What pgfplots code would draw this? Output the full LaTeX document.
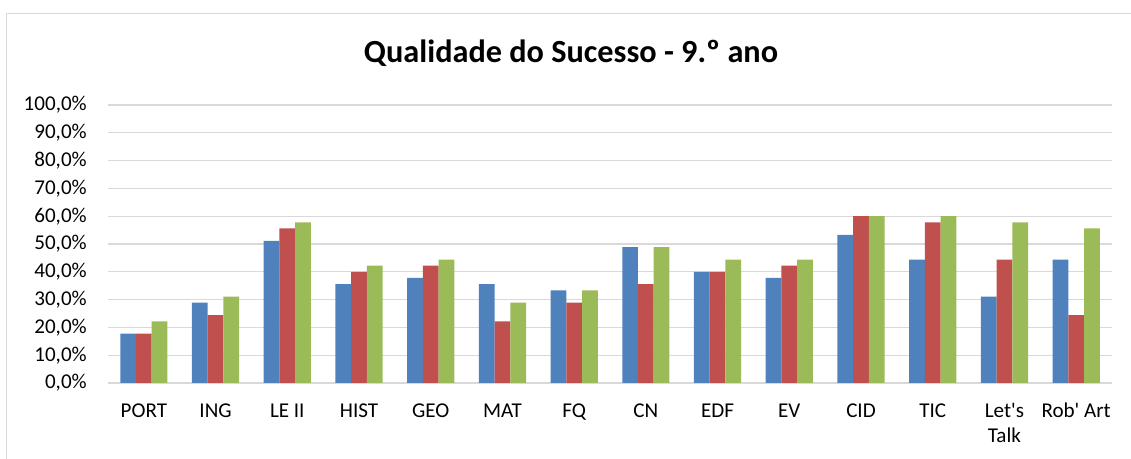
\documentclass[border=0pt]{standalone}
\usepackage{pgfplots}
\pgfplotsset{compat=1.18}
\usepackage{fontspec}
\setmainfont{Carlito}[Ligatures=TeXOff]
\definecolor{sA}{HTML}{4F81BD}
\definecolor{sB}{HTML}{C0504D}
\definecolor{sC}{HTML}{9BBB59}
\definecolor{gridc}{HTML}{D9D9D9}
\begin{document}
\begin{tikzpicture}
\useasboundingbox (0,0) rectangle (848.25pt,344.25pt);
\draw[color=gridc, line width=0.9pt] (5pt,-2pt) -- (5pt,334pt) -- (850pt,334pt);
\node[font=\fontsize{24.2}{28}\selectfont\bfseries, anchor=base, inner sep=0pt] at (428.25pt,297pt) {Qualidade do Sucesso - 9.º ano};
\begin{axis}[
  at={(81pt,57pt)}, anchor=south west,
  scale only axis, width=753pt, height=208.5pt,
  ymin=0, ymax=100, ytick={0,10,...,100},
  xmin=-0.5, xmax=13.5, xtick={0,...,13},
  xticklabels={PORT,ING,LE II,HIST,GEO,MAT,FQ,CN,EDF,EV,CID,TIC,{\begin{tabular}[t]{@{}c@{}}Let's\\Talk\end{tabular}},Rob' Art},
  ybar=0pt, bar width=11.8pt,
  axis line style={draw=none},
  major tick length=0pt,
  ymajorgrids, grid style={gridc, line width=0.9pt},
  /pgf/number format/assume math mode=true,
  yticklabel={\pgfmathprintnumber[fixed,fixed zerofill,precision=1,use comma]{\tick}\%},
  tick label style={font=\fontsize{15.8}{18.5}\selectfont, text=black},
  yticklabel style={anchor=east, inner sep=0pt, xshift=-15.75pt},
  xticklabel style={anchor=base, inner sep=0pt, yshift=-26.25pt},
  clip=false,
]
\addplot[fill=sA, draw=none] coordinates {(0,17.8) (1,28.9) (2,51.1) (3,35.6) (4,37.8) (5,35.6) (6,33.3) (7,48.9) (8,40.0) (9,37.8) (10,53.3) (11,44.4) (12,31.1) (13,44.4)};
\addplot[fill=sB, draw=none] coordinates {(0,17.8) (1,24.4) (2,55.6) (3,40.0) (4,42.2) (5,22.2) (6,28.9) (7,35.6) (8,40.0) (9,42.2) (10,60.0) (11,57.8) (12,44.4) (13,24.4)};
\addplot[fill=sC, draw=none] coordinates {(0,22.2) (1,31.1) (2,57.8) (3,42.2) (4,44.4) (5,28.9) (6,33.3) (7,48.9) (8,44.4) (9,44.4) (10,60.0) (11,60.0) (12,57.8) (13,55.6)};
\end{axis}
\end{tikzpicture}
\end{document}
